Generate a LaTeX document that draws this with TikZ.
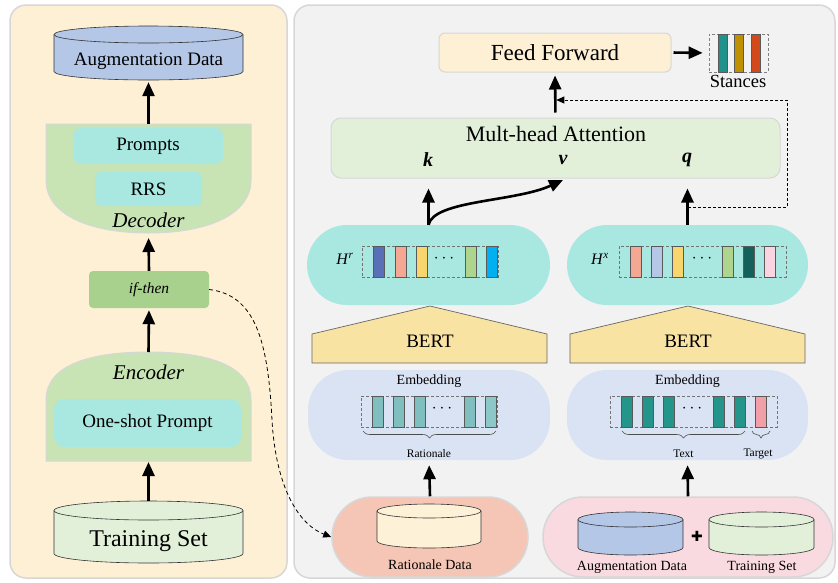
\documentclass[tikz,border=0pt]{standalone}
\usepackage{fontspec}
\setmainfont{Liberation Serif}
\newfontfamily\symbolfont{DejaVu Sans}
\usepackage{tikz}
\usetikzlibrary{arrows.meta, decorations.pathreplacing}
\definecolor{cream}{RGB}{253, 240, 213}
\definecolor{panelgray}{RGB}{242, 242, 242}
\definecolor{rim}{RGB}{215, 215, 215}
\definecolor{augblue}{RGB}{180, 199, 231}
\definecolor{trainlight}{RGB}{226, 240, 217}
\definecolor{coder}{RGB}{200, 228, 180}
\definecolor{turq}{RGB}{169, 232, 225}
\definecolor{ifgreen}{RGB}{169, 209, 142}
\definecolor{bertyellow}{RGB}{249, 227, 163}
\definecolor{embblue}{RGB}{218, 227, 243}
\definecolor{ratsalmon}{RGB}{245, 198, 181}
\definecolor{ratcream}{RGB}{253, 241, 215}
\definecolor{mixpink}{RGB}{249, 218, 224}
\definecolor{hrblue}{RGB}{91, 111, 184}
\definecolor{salmon}{RGB}{244, 167, 147}
\definecolor{butter}{RGB}{249, 213, 110}
\definecolor{leaf}{RGB}{174, 213, 142}
\definecolor{sky}{RGB}{0, 176, 240}
\definecolor{pine}{RGB}{19, 97, 90}
\definecolor{blush}{RGB}{250, 212, 224}
\definecolor{tealsoft}{RGB}{128, 191, 192}
\definecolor{tealpale}{RGB}{142, 199, 200}
\definecolor{tealdeep}{RGB}{35, 149, 138}
\definecolor{rose}{RGB}{241, 160, 170}
\definecolor{stteal}{RGB}{33, 145, 140}
\definecolor{stocher}{RGB}{191, 144, 0}
\definecolor{stred}{RGB}{210, 73, 27}
\newcommand{\txtsize}[1]{\fontsize{#1}{#1}\selectfont}
% database drum: name, x, y, width, height, cap radius, fill
\newcommand{\drum}[7]{%
  \pgfmathsetmacro{\drl}{#2-#4/2}
  \pgfmathsetmacro{\drr}{#2+#4/2}
  \pgfmathsetmacro{\drt}{#3-#5/2+#6}
  \pgfmathsetmacro{\drb}{#3+#5/2-#6}
  \pgfmathsetmacro{\drx}{#4/2}
  \path[fill=#7, draw=black!80, line width=0.6pt] (\drl,\drt) -- (\drl,\drb)
    arc[start angle=180, end angle=360, x radius=\drx pt, y radius=#6pt] -- (\drr,\drt)
    arc[start angle=0, end angle=180, x radius=\drx pt, y radius=#6pt] -- cycle;
  \draw[black!80, line width=0.6pt] (\drl,\drt)
    arc[start angle=180, end angle=360, x radius=\drx pt, y radius=#6pt];
  \node[inner sep=0pt, minimum width=#4pt, minimum height=#5pt] (#1) at (#2,#3) {};
}

\begin{document}
\begin{tikzpicture}[x=1pt, y=-1pt,
  panel/.style={draw=rim, line width=1.5pt, rounded corners=16pt, inner sep=0pt},
  box/.style={rounded corners=#1, inner sep=0pt},
  pill/.style={rounded corners=40pt, inner sep=0pt},
  bar/.style={draw=black!65, line width=0.5pt, minimum width=11pt, minimum height=31pt, inner sep=0pt},
  vecbox/.style={draw=black!55, dashed, dash pattern=on 3pt off 2pt, line width=0.7pt, minimum height=31pt, inner sep=0pt},
  dots/.style={font=\txtsize{17}},
  flow/.style={line width=2.6pt, -{Triangle[length=14pt, width=12pt]}},
  loopback/.style={line width=0.9pt, dash pattern=on 3pt off 2pt, -{Triangle[length=8pt, width=7pt]}},
  curly/.style={decorate, decoration={brace, mirror, amplitude=7pt}, draw=black!70, line width=0.6pt}]
  \useasboundingbox (0,0) rectangle (838,582);

  % panels
  \node[panel, fill=cream, minimum width=277pt, minimum height=573pt] (leftpanel) at (148.5,291.5) {};
  \node[panel, fill=panelgray, minimum width=541pt, minimum height=573pt] (rightpanel) at (564.5,291.5) {};

  % ---- left: data augmentation ----
  \drum{augtop}{148.5}{53}{189}{54}{8.5}{augblue}
  \node[font=\txtsize{19}] (augtoptext) at (148.5,61.5) {Augmentation Data};

  \path[fill=coder, draw=rim, line width=1pt] (46,124) -- (251,124) -- (251,180)
    .. controls (251,215) and (207,233) .. (148.5,233)
    .. controls (90,233) and (46,215) .. (46,180) -- cycle;
  \coordinate (dectop) at (148.5,124);
  \coordinate (decbot) at (148.5,233);
  \node[box=8pt, fill=turq, minimum width=150pt, minimum height=36pt, font=\txtsize{19}] (prompts) at (148,146) {Prompts};
  \node[box=6pt, fill=turq, minimum width=107pt, minimum height=34pt, font=\txtsize{19}] (rrs) at (148.5,189) {RRS};
  \node[font=\txtsize{21}\itshape] (declabel) at (148.5,220) {Decoder};

  \node[box=4pt, fill=ifgreen, minimum width=120pt, minimum height=37pt, font=\txtsize{15.5}\itshape] (ifthen) at (149,289.5) {if-then};

  \path[fill=coder, draw=rim, line width=1pt] (46,461) -- (46,400)
    .. controls (46,365) and (90,352) .. (148.5,352)
    .. controls (207,352) and (251,365) .. (251,400) -- (251,461) -- cycle;
  \coordinate (enctop) at (148.5,352);
  \coordinate (encbot) at (148.5,461);
  \node[font=\txtsize{21}\itshape] (enclabel) at (148.5,372) {Encoder};
  \node[box=10pt, fill=turq, minimum width=187pt, minimum height=48pt, font=\txtsize{19}] (oneshot) at (147.5,423) {One-shot Prompt};

  \drum{trainbig}{148.5}{532}{189}{62}{9.5}{trainlight}
  \node[font=\txtsize{24}] (trainbigtext) at (148.5,541) {Training Set};

  \draw[flow, shorten >=2pt] (dectop) -- (augtop.south);
  \draw[flow, shorten >=5pt] (ifthen.north) -- (decbot);
  \draw[flow, shorten >=2pt] (enctop) -- (ifthen.south);
  \draw[flow, shorten >=1pt] (trainbig.north) -- (encbot);

  % ---- right: stance detection ----
  \node[box=6pt, fill=cream, draw=rim, line width=1pt, minimum width=232pt, minimum height=39pt, font=\txtsize{23}] (ff) at (555,52.5) {Feed Forward};
  \node[vecbox, draw=black!50, minimum width=59pt, minimum height=38pt] (stances) at (738.5,53) {};
  \foreach [count=\n] \bx/\bc in {722.5/stteal, 739/stocher, 756/stred}
    \node[bar, fill=\bc, minimum width=9pt, minimum height=38pt] (stbar\n) at (\bx,53) {};
  \node[font=\txtsize{18.5}] (stlabel) at (738,81) {Stances};

  \node[box=10pt, fill=trainlight, draw=rim, line width=1pt, minimum width=449pt, minimum height=60pt] (mha) at (555.5,148) {};
  \node[font=\txtsize{22}] (mhalabel) at (556,134) {Mult-head Attention};
  \node[font=\txtsize{20}\bfseries\itshape] (k) at (428,160) {k};
  \node[font=\txtsize{20}\bfseries\itshape] (v) at (563,160) {v};
  \node[font=\txtsize{20}\bfseries\itshape] (q) at (687,160) {q};

  % hidden states
  \node[pill, fill=turq, minimum width=243pt, minimum height=80pt] (hr) at (428.5,265) {};
  \node[font=\txtsize{16}] (hrlabel) at (345,259) {\textit{H}\textsuperscript{\textit{r}}};
  \node[vecbox, minimum width=136pt] (hrvec) at (430,261.5) {};
  \foreach [count=\n] \bx/\bc in {378.5/hrblue, 400.5/salmon, 421.5/butter, 471/leaf, 492/sky}
    \node[bar, fill=\bc] (hrbar\n) at (\bx,261.5) {};
  \node[dots] (hrdots) at (444,259) {$\cdots$};

  \node[pill, fill=turq, minimum width=241pt, minimum height=80pt] (hx) at (687.5,265) {};
  \node[font=\txtsize{16}] (hxlabel) at (600,259) {\textit{H}\textsuperscript{\textit{x}}};
  \node[vecbox, minimum width=167pt] (hxvec) at (702.5,261.5) {};
  \foreach [count=\n] \bx/\bc in {635.5/salmon, 656.5/augblue, 677.5/butter, 727.5/leaf, 748.5/pine, 769.5/blush}
    \node[bar, fill=\bc] (hxbar\n) at (\bx,261.5) {};
  \node[dots] (hxdots) at (702,259) {$\cdots$};

  % encoders
  \draw[fill=bertyellow, draw=black!60, line width=0.7pt] (312,363) -- (312,334) -- (430,306) -- (547,334) -- (547,363) -- cycle;
  \node[font=\txtsize{19}] (bertr) at (430,341) {BERT};
  \draw[fill=bertyellow, draw=black!60, line width=0.7pt] (570,363) -- (570,334) -- (688,306) -- (805,334) -- (805,363) -- cycle;
  \node[font=\txtsize{19}] (bertx) at (688,341) {BERT};

  % embeddings
  \node[pill, fill=embblue, minimum width=242pt, minimum height=90pt] (embr) at (429,415) {};
  \node[font=\txtsize{14}] (embrlabel) at (429,381) {Embedding};
  \node[vecbox, minimum width=136pt] (embrvec) at (429,411.5) {};
  \foreach [count=\n] \bx/\bc in {378/tealsoft, 399/tealsoft, 420/tealsoft, 469.5/tealsoft, 490.5/tealpale}
    \node[bar, fill=\bc] (embrbar\n) at (\bx,411.5) {};
  \node[dots] (embrdots) at (442,409) {$\cdots$};
  \draw[curly] (363,431) -- (496,431);
  \node[font=\txtsize{11.5}] (ratlabel) at (429,454) {Rationale};

  \node[pill, fill=embblue, minimum width=241pt, minimum height=90pt] (embx) at (687.5,415) {};
  \node[font=\txtsize{14}] (embxlabel) at (687.5,381) {Embedding};
  \node[vecbox, minimum width=167pt] (embxvec) at (693.5,411.5) {};
  \foreach [count=\n] \bx/\bc in {626.5/tealdeep, 647.5/tealdeep, 668.5/tealdeep, 718.5/tealdeep, 739.5/tealdeep, 760.5/rose}
    \node[bar, fill=\bc] (embxbar\n) at (\bx,411.5) {};
  \node[dots] (embxdots) at (692,409) {$\cdots$};
  \draw[curly] (622,431) -- (745,431);
  \draw[curly] (752,431) -- (770,431);
  \node[font=\txtsize{11.5}] (textlabel) at (683.5,454) {Text};
  \node[font=\txtsize{11.5}] (targetlabel) at (758,454) {Target};

  % inputs
  \node[pill, fill=ratsalmon, draw=rim, line width=1.5pt, minimum width=196pt, minimum height=80pt] (ratin) at (430,537) {};
  \drum{ratdrum}{429}{526}{104}{44}{7}{ratcream}
  \node[font=\txtsize{14}] (ratdata) at (430,565) {Rationale Data};

  \node[pill, fill=mixpink, draw=rim, line width=1.5pt, minimum width=290pt, minimum height=80pt] (mixin) at (688,537) {};
  \drum{augdrum}{630.5}{533.5}{105}{43}{7.5}{augblue}
  \node[font=\txtsize{14}\symbolfont] (plus) at (697,536) {✚};
  \drum{traindrum}{761.5}{533.5}{105}{43}{7.5}{trainlight}
  \node[font=\txtsize{14}] (auglabel) at (632,567) {Augmentation Data};
  \node[font=\txtsize{14}] (trainlabel) at (762,567) {Training Set};

  % connectors
  \draw[flow, shorten >=5pt] (ratin.north) -- (embr.south);
  \draw[flow, shorten >=5pt] (mixin.north) -- (embx.south);
  \draw[flow, shorten >=10pt] (hr.north) -- (hr.north |- mha.south);
  \draw[flow, shorten >=10pt] (hx.north) -- (hx.north |- mha.south);
  \coordinate (vtip) at (563,180);
  \draw[flow] (hr.north) .. controls (434,200) and (515,202) .. (vtip);
  \draw[flow, shorten <=5pt, shorten >=3pt] (mha.north) -- (ff.south);
  \draw[flow, shorten <=2pt, shorten >=6pt] (ff.east) -- (stances.west);

  \coordinate (qtap) at (688,207);
  \coordinate (loopcorner) at (787,207);
  \coordinate (fftap) at (555,100);
  \draw[loopback, shorten >=1.3pt] (qtap) -- (loopcorner) |- (fftap);

  \draw[loopback, line width=0.8pt, dash pattern=on 4pt off 3pt] (ifthen.east)
    .. controls (255,295) and (268,340) .. (272,420)
    .. controls (276,490) and (300,525) .. (ratin.west);
\end{tikzpicture}
\end{document}
